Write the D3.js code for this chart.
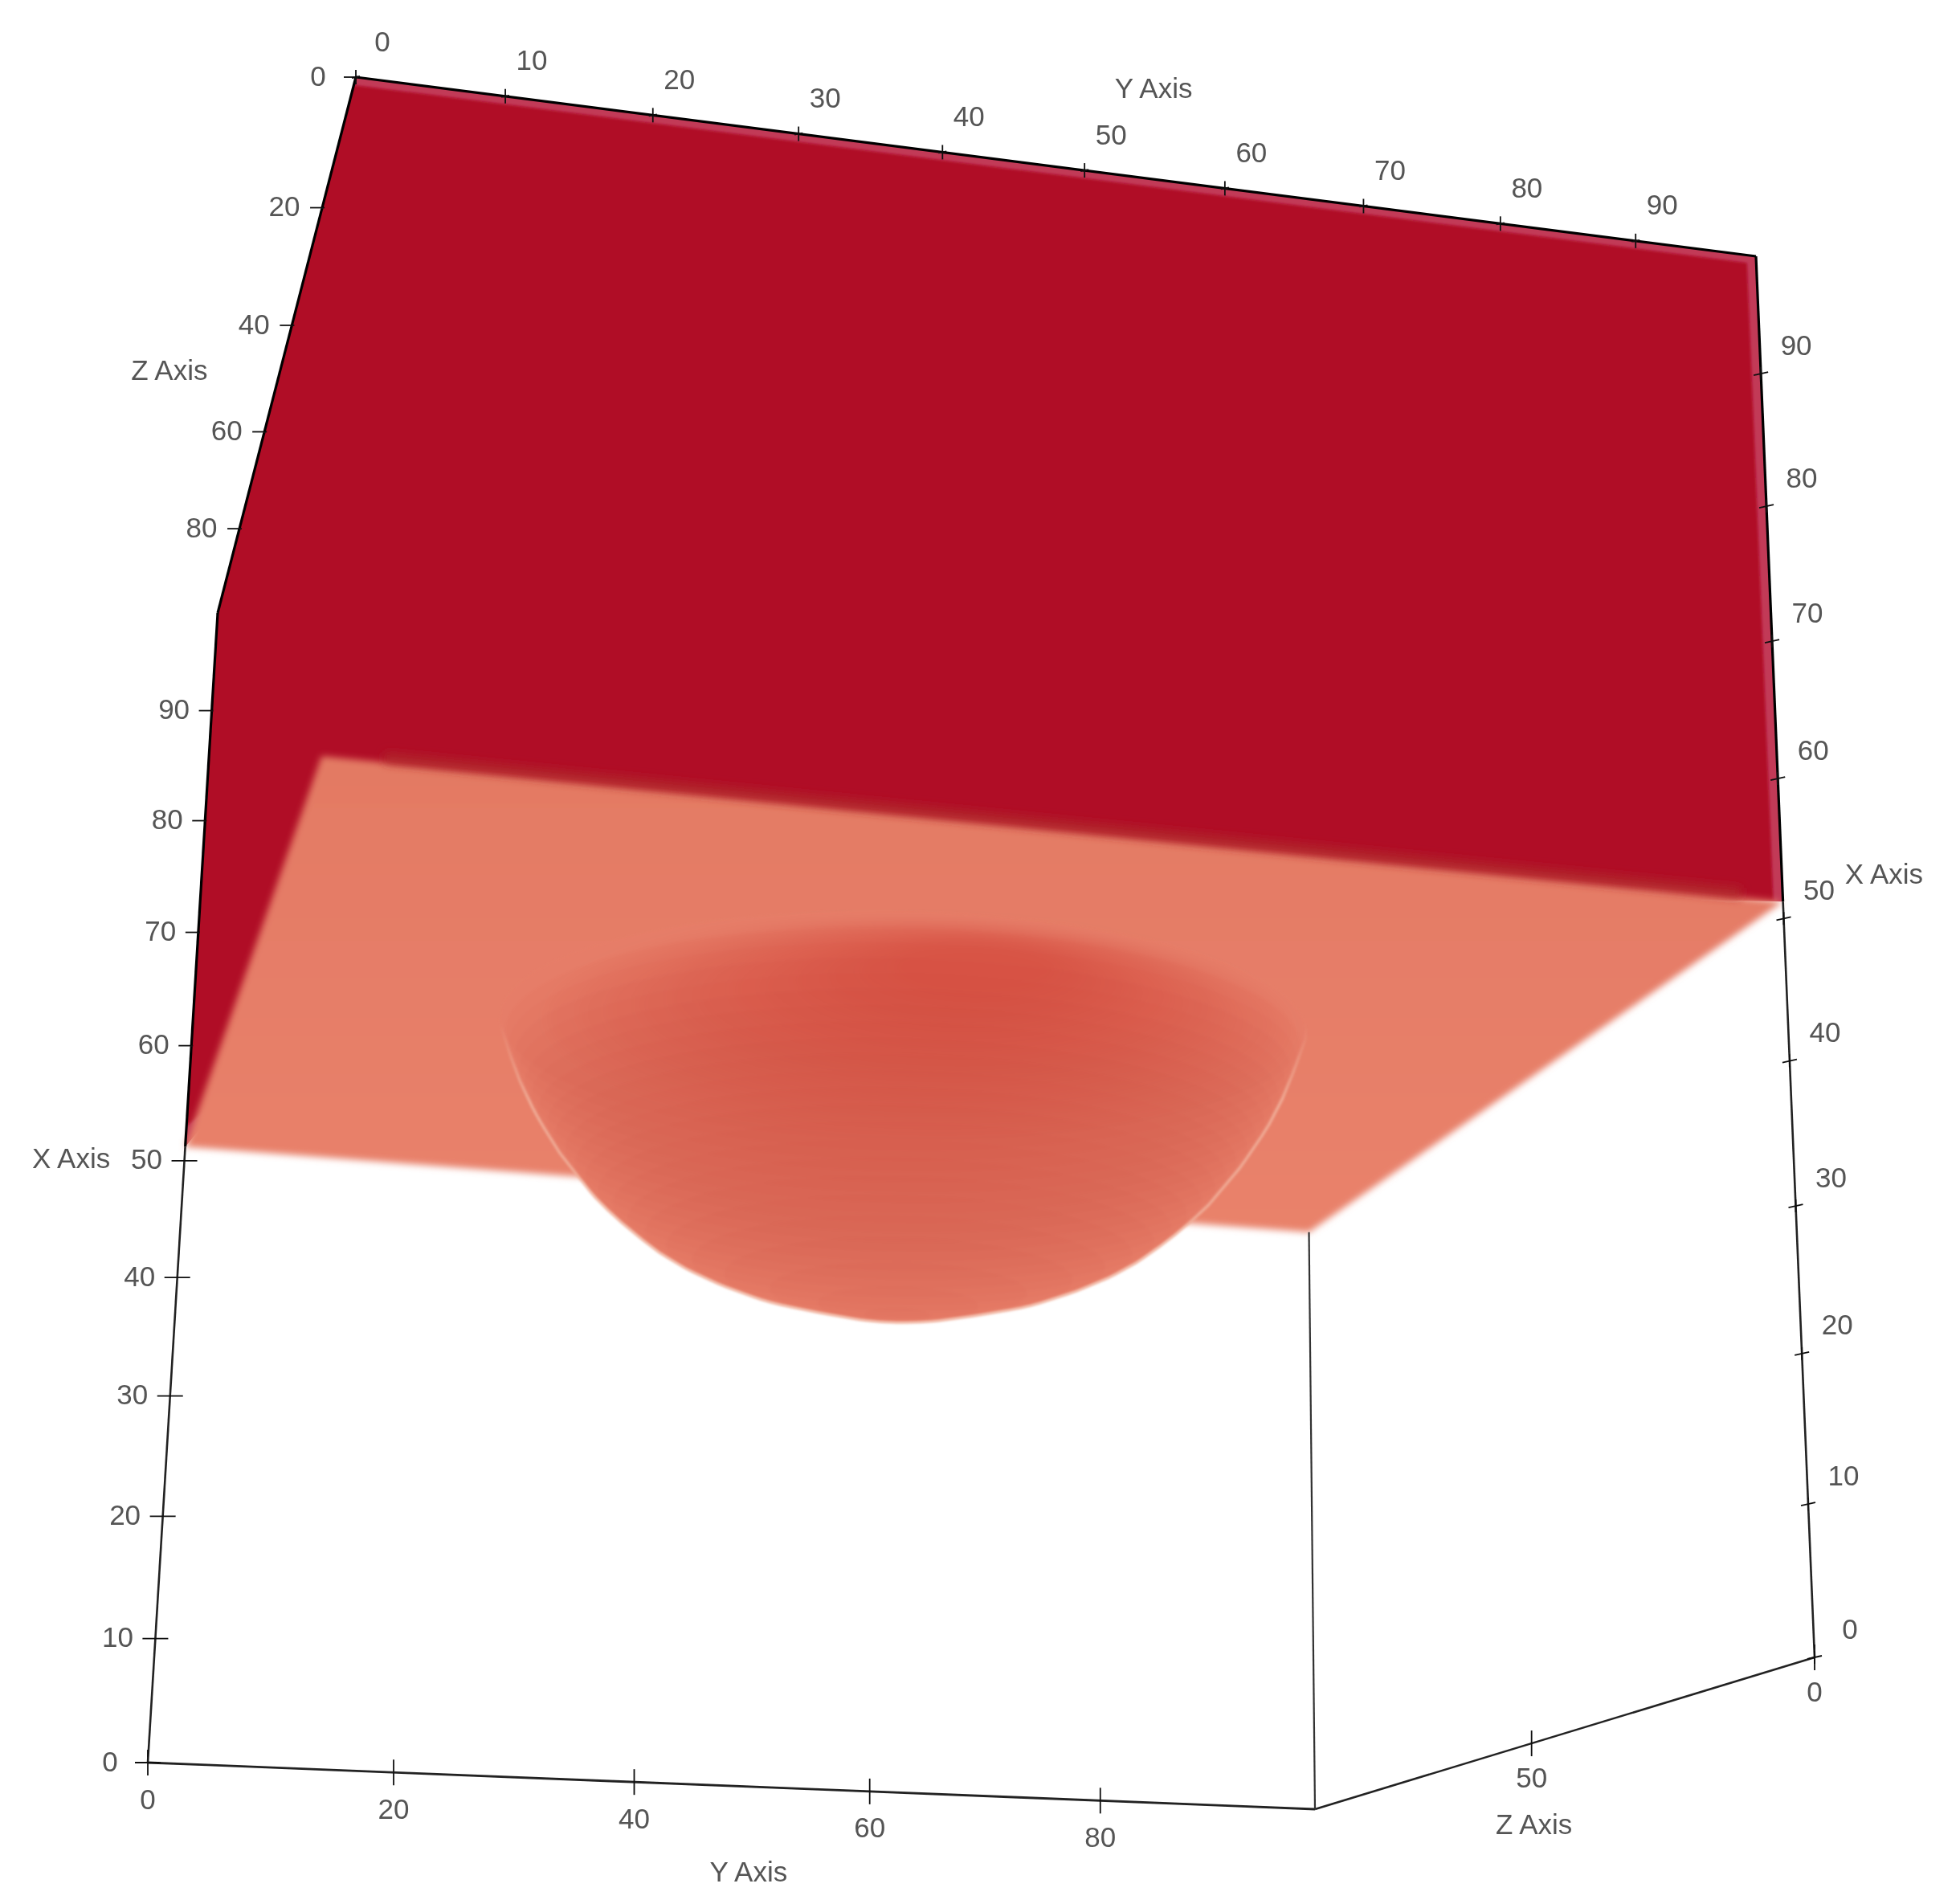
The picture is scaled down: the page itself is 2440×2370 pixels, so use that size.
<!DOCTYPE html>
<html><head><meta charset="utf-8">
<script src="https://cdnjs.cloudflare.com/ajax/libs/d3/7.8.5/d3.min.js"></script>
<style>html,body{margin:0;padding:0;background:#fff}svg{display:block}</style></head>
<body><svg id="c" width="2440" height="2370"></svg>
<script>
const xTicks=[0,10,20,30,40,50,60,70,80,90];
const yTicksTop=[0,10,20,30,40,50,60,70,80,90];
const yTicksBottom=[0,20,40,60,80];
const zTicksLeft=[0,20,40,60,80];
const zTicksBottom=[0,50];
const axisMax=99;
const sliceLevel=51.2;
const domeDepth=[0,1,2,3,4,5,6,7,8,9,10,11,12,13,14,15,16,17,18,19,20,21,21.8];
const domeRadius=[30.4,30,29.7,29.3,28.9,28.4,27.9,27.3,26.6,26,25.2,24.4,23.6,22.6,21.5,20.3,19,17.4,15.4,13,9.6,6,2.5];
const domeCentre=[49.8,50];
const capRadius=[28,26,24,22,20,18,16,14,12,10,8,6];
const capOffset=[1,3,4,6,8,9,11,12,14,15,17,18];

const corners=[
 [[0,0,0],[350,1937]],[[0,0,1],[184,2194]],[[0,1,0],[2259,2063]],[[0,1,1],[1637,2252]],
 [[1,0,0],[443,96]],[[1,0,1],[271,763]],[[1,1,0],[2186,319]],[[1,1,1],[1623,909]]];
const depth=[0.1,0.07,0.3];
const unit=d3.scaleLinear().domain([0,axisMax]).range([0,1]);
function project(X,Y,Z){
  const u=unit(X),v=unit(Y),t=unit(Z);
  let sx=0,sy=0,sw=0;
  for(const [c,p] of corners){
    const w=(c[0]?u:1-u)*(c[1]?v:1-v)*(c[2]?t:1-t)*(1+depth[0]*c[0]+depth[1]*c[1]+depth[2]*c[2]);
    sx+=w*p[0];sy+=w*p[1];sw+=w;
  }
  return [sx/sw,sy/sw];
}
const svg=d3.select('#c');
const defs=svg.append('defs');
function blur(id,s){defs.append('filter').attr('id',id).attr('x',0).attr('y',0).attr('width',2440).attr('height',2370)
  .attr('filterUnits','userSpaceOnUse').append('feGaussianBlur').attr('stdDeviation',s);}
blur('b8',8);blur('b6',6);blur('b4',4);blur('b3',1.8);blur('b2',1.6);blur('t',0.7);blur('l',0.5);
const salmonGrad=defs.append('linearGradient').attr('id','salmon').attr('gradientUnits','userSpaceOnUse').attr('x1',0).attr('x2',0).attr('y1',950).attr('y2',1530);
salmonGrad.append('stop').attr('offset',0).attr('stop-color','#e37a64');
salmonGrad.append('stop').attr('offset',1).attr('stop-color','#e9826b');
const rimGrad=defs.append('linearGradient').attr('id','rim').attr('gradientUnits','userSpaceOnUse').attr('x1',0).attr('x2',0).attr('y1',1275).attr('y2',1370);
rimGrad.append('stop').attr('offset',0).attr('stop-color','#f3bda8').attr('stop-opacity',0);
rimGrad.append('stop').attr('offset',1).attr('stop-color','#f3bda8').attr('stop-opacity',0.8);

const closed=d3.line().curve(d3.curveLinearClosed);
const L=sliceLevel,M=axisMax;
// pale outer shell, dark interior clipped to the shell
const shell=[project(M,0,0),project(M,M,0),project(L,M,0),project(L-2,60,3),project(L-2,3,3),project(L-2,3,60),project(L,0,M),project(M,0,M)];
defs.append('clipPath').attr('id','shellClip').append('path').attr('d',closed(shell));
svg.append('path').attr('fill','#c23a57').attr('d',closed(shell));
svg.append('g').attr('clip-path','url(#shellClip)').append('path').attr('fill','#b00827').attr('filter','url(#b2)').attr('d',closed([
 project(M-.6,-3,0),project(M-.6,M-.7,0),project(L,M-.7,0),project(L-3,60,3),project(L-3,3,3),project(L-3,3,60),project(L-1,-3,M+1),project(M+1,-3,M+1)]));
// salmon cut face
svg.append('path').attr('fill','url(#salmon)').attr('filter','url(#b4)').attr('d',closed([
 project(L,0,0),project(L,M,0),project(L,M,M),project(L,0,M)]));
// darker band where the solid meets the cut face
const bandA=project(L+.3,4,0),bandB=project(L+.3,M-3,0);
svg.append('line').attr('x1',bandA[0]).attr('y1',bandA[1]).attr('x2',bandB[0]).attr('y2',bandB[1])
  .attr('stroke','#b22a2c').attr('stroke-opacity',.8).attr('stroke-width',13).attr('filter','url(#b6)');
// dome
const disc=(X,Y,Z,r)=>d3.range(0,360,5).map(a=>project(X,Y+r*Math.cos(a*Math.PI/180),Z+r*Math.sin(a*Math.PI/180)));
const slices=domeDepth.map((d,i)=>disc(L-d,domeCentre[0],domeCentre[1],domeRadius[i]));
const caps=capRadius.map((r,i)=>disc(L,domeCentre[0]+1,domeCentre[1]-capOffset[i],r));
const hull=d3.polygonHull(slices.flat());
svg.append('path').attr('fill','#e8806a').attr('filter','url(#b2)').attr('d',closed(hull));
svg.append('g').attr('filter','url(#b3)').selectAll('path').data(slices).join('path').attr('fill','#b81e28').attr('fill-opacity',0.025).attr('d',closed);
svg.append('g').attr('filter','url(#b8)').selectAll('path').data(caps).join('path').attr('fill','#b81e28').attr('fill-opacity',0.03).attr('d',closed);
svg.append('path').attr('fill','none').attr('stroke','url(#rim)').attr('stroke-width',3).attr('filter','url(#b2)').attr('d',closed(hull));

const ink=svg.append('g').attr('filter','url(#l)');
function axisLine(a,b,w,c){const p=project(...a),q=project(...b);ink.append('line').attr('x1',p[0]).attr('y1',p[1]).attr('x2',q[0]).attr('y2',q[1]).attr('stroke',c).attr('stroke-width',w);}
axisLine([M,0,0],[M,M,0],3.2,'#000');
axisLine([M,0,0],[M,0,M],3.2,'#000');
axisLine([M,0,M],[L,0,M],3.2,'#000');
axisLine([L,0,M],[0,0,M],2.6,'#222');
axisLine([M,M,0],[L,M,0],3.2,'#000');
axisLine([L,M,0],[0,M,0],2.6,'#222');
axisLine([0,0,M],[0,M,M],2.8,'#222');
axisLine([0,M,M],[0,M,0],2.6,'#222');
axisLine([0,M,M],[L,M,M],2.2,'#333');

const axes=[
 {vals:yTicksTop,at:v=>[M,v,0],lx:33,ly:-45,t:v=>[[0,-9,0,9],[-5,1,5,-1]]},
 {vals:zTicksLeft,at:v=>[M,0,v],lx:-47,ly:-2,t:v=>[[-15,0,3,0]]},
 {vals:xTicks,at:v=>[v,0,M],lx:-47,ly:-2,t:v=>v>50?[[-16,0,2,0]]:[[-16,0,16,0]]},
 {vals:xTicks,at:v=>[v,M,0],lx:44,ly:-36,t:v=>[[-9,2,9,-2],[0,-8,0,8]]},
 {vals:yTicksBottom,at:v=>[0,v,M],lx:0,ly:45,t:v=>[[0,-16,0,16]].concat(v===0?[[-16,0,14,0]]:[])},
 {vals:zTicksBottom,at:v=>[0,M,v],lx:0,ly:42,t:v=>[[0,-16,0,16]]}
];
const labels=svg.append('g').attr('filter','url(#t)').attr('font-family','Liberation Sans, Arial, sans-serif').attr('font-size',35).attr('fill','#555').attr('text-anchor','middle');
axes.forEach(a=>{
  a.vals.forEach(v=>{
    const p=project(...a.at(v));
    a.t(v).forEach(s=>ink.append('line').attr('x1',p[0]+s[0]).attr('y1',p[1]+s[1]).attr('x2',p[0]+s[2]).attr('y2',p[1]+s[3]).attr('stroke','#111').attr('stroke-width',1.8));
    labels.append('text').attr('x',p[0]+a.lx).attr('y',p[1]+a.ly).attr('dy','.36em').text(v);
  });
});
const titles=[
 {text:'Y Axis',at:[M,50,0],dx:86,dy:-103},
 {text:'Z Axis',at:[M,0,50],dx:-135,dy:-12},
 {text:'X Axis',at:[50,0,M],dx:-141,dy:-3},
 {text:'X Axis',at:[50,M,0],dx:125,dy:-56},
 {text:'Z Axis',at:[0,M,50],dx:3,dy:100},
 {text:'Y Axis',at:[0,50,M],dx:-5,dy:105}];
titles.forEach(t=>{const p=project(...t.at);labels.append('text').attr('x',p[0]+t.dx).attr('y',p[1]+t.dy).attr('dy','.36em').text(t.text);});
</script></body></html>
